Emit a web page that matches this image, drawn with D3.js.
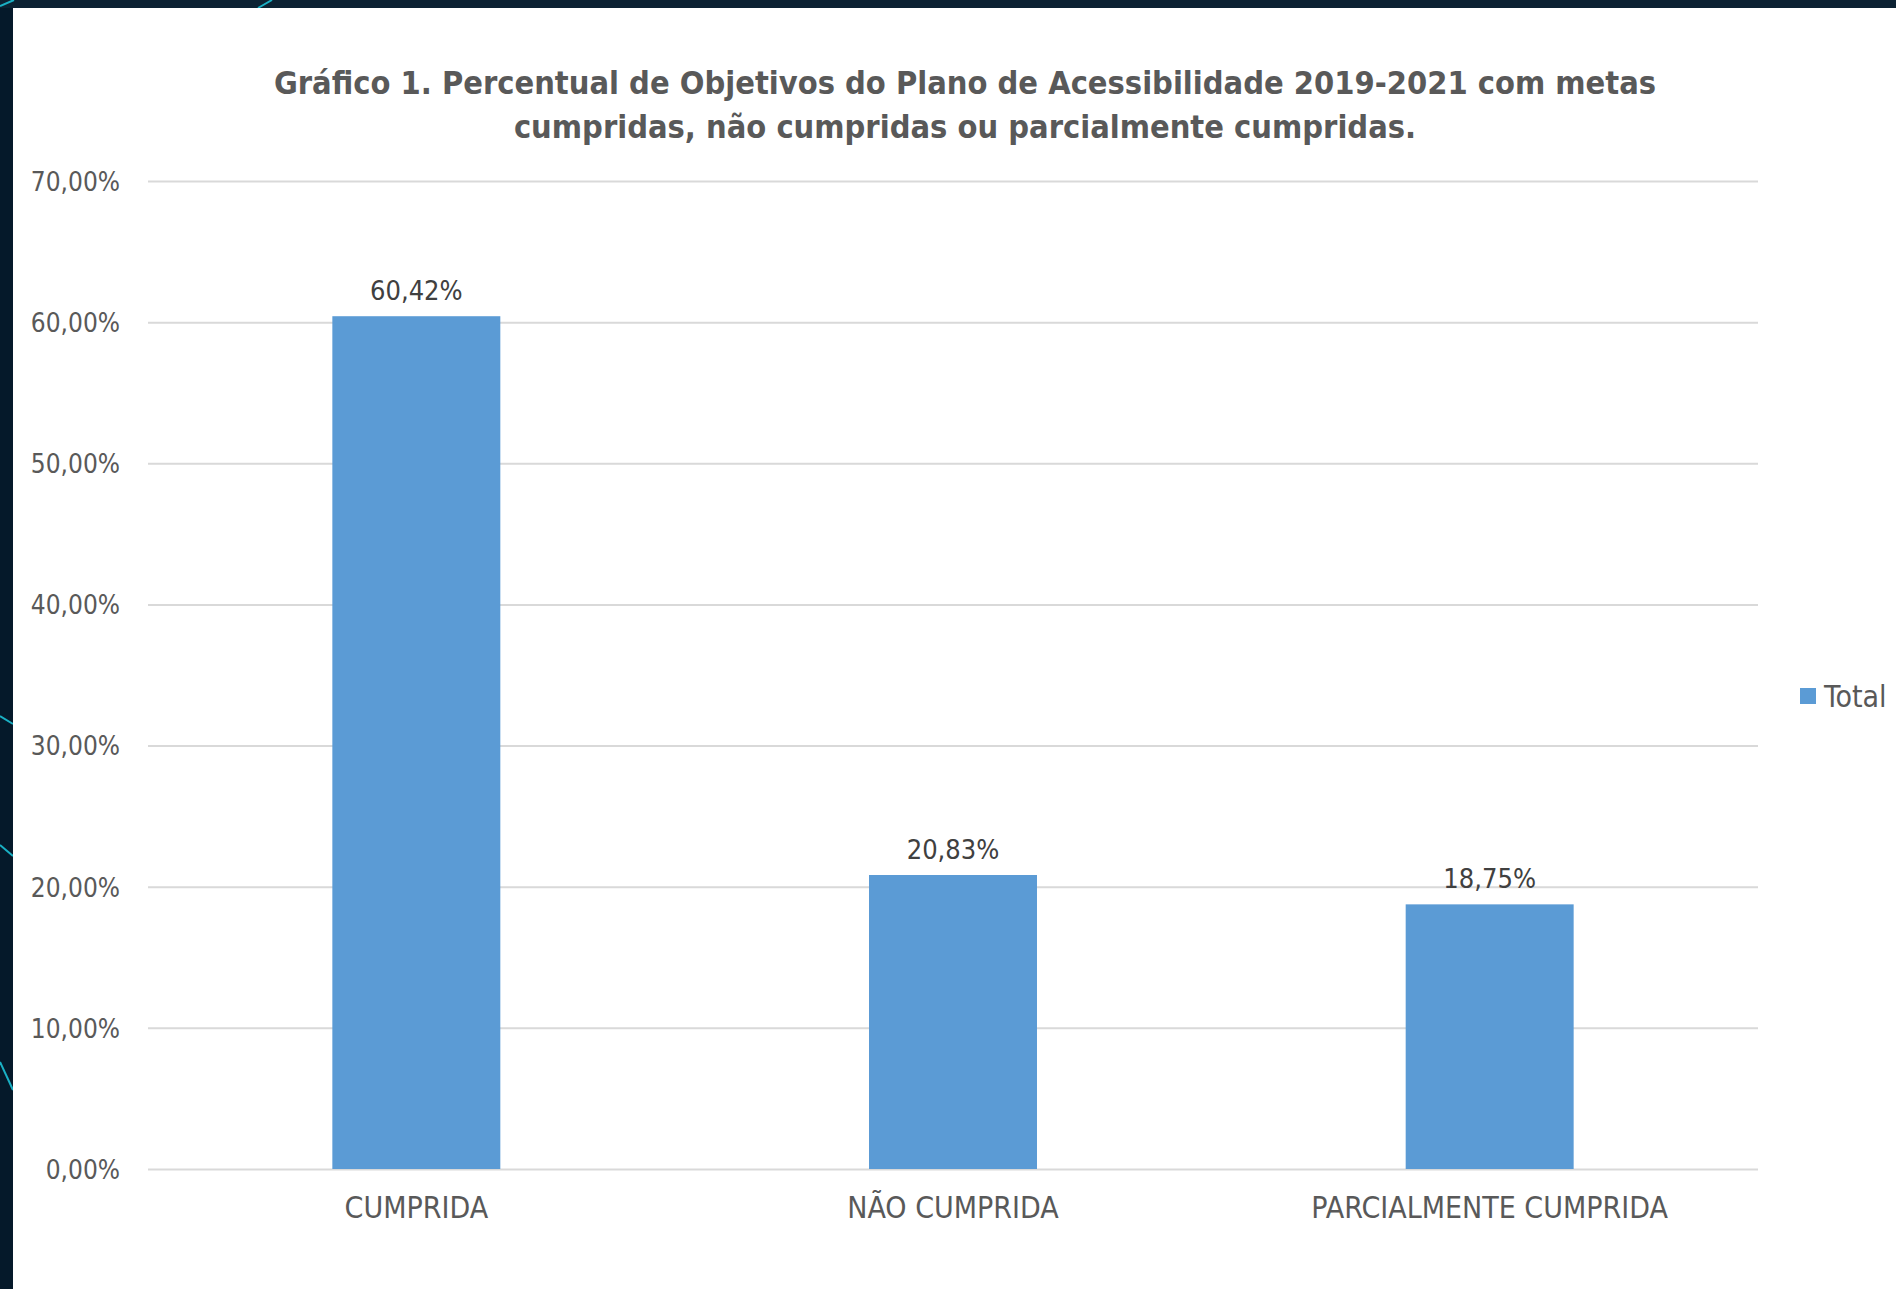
<!DOCTYPE html>
<html>
<head>
<meta charset="utf-8">
<script src="https://cdn.jsdelivr.net/npm/d3@7"></script>
<style>
  html, body { margin: 0; padding: 0; background: #0c2233; }
  svg { display: block; }
  text { font-family: "DejaVu Sans Condensed", "DejaVu Sans", sans-serif; font-stretch: condensed; }
</style>
</head>
<body>
<script>
// dados do gráfico
var categories = ["CUMPRIDA", "NÃO CUMPRIDA", "PARCIALMENTE CUMPRIDA"];
var totals = [60.42, 20.83, 18.75];
var yTicks = [0, 10, 20, 30, 40, 50, 60, 70];
var seriesName = "Total";
var titleLines = [
  "Gráfico 1. Percentual de Objetivos do Plano de Acessibilidade 2019-2021 com metas",
  "cumpridas, não cumpridas ou parcialmente cumpridas."
];

var W = 1896, H = 1289;
// "top" é reservado no window, por isso mTop etc.
var mLeft = 148, mRight = 1758, mTop = 181, mBottom = 1169;
var textColor = "#595959", barColor = "#5b9bd5";

var ptBR = d3.formatLocale({decimal: ",", thousands: ".", grouping: [3], currency: ["R$", ""]});
var fmt = function (d) { return ptBR.format(".2f")(d) + "%"; };

var svg = d3.select("body").append("svg")
  .attr("width", W)
  .attr("height", H);

// fundo escuro do slide + linhas decorativas
svg.append("rect").attr("width", W).attr("height", H).attr("fill", "#0c2233");
svg.append("rect").attr("x", 0).attr("y", 8).attr("width", 13).attr("height", H).attr("fill", "#05192a");
var deco = [[0, 6, 14, 0], [258, 8, 272, 0], [0, 716, 13, 724], [0, 845, 13, 856], [0, 1062, 13, 1090]];
svg.selectAll("line.deco").data(deco).enter().append("line")
  .attr("class", "deco")
  .attr("x1", function (d) { return d[0]; }).attr("y1", function (d) { return d[1]; })
  .attr("x2", function (d) { return d[2]; }).attr("y2", function (d) { return d[3]; })
  .attr("stroke", "#1ab0c4").attr("stroke-width", 2);

// painel branco
svg.append("rect").attr("x", 13).attr("y", 8).attr("width", W - 13).attr("height", H - 8).attr("fill", "#ffffff");

var x = d3.scaleBand().domain(categories).range([mLeft, mRight]).paddingInner(0.687).paddingOuter(0.3435);
var y = d3.scaleLinear().domain([0, 70]).range([mBottom, mTop]);

// eixo y com grade
var gy = svg.append("g").attr("transform", "translate(" + mLeft + ",0)")
  .call(d3.axisLeft(y).tickValues(yTicks).tickFormat(fmt).tickSize(-(mRight - mLeft)).tickPadding(28));
gy.select(".domain").remove();
gy.selectAll(".tick line").attr("stroke", "#d9d9d9").attr("stroke-width", 2);
gy.selectAll(".tick text")
  .attr("fill", textColor)
  .attr("font-size", 26)
  .attr("font-family", null)
  .attr("dy", "0.36em");

// barras
svg.selectAll("rect.bar").data(totals).enter().append("rect")
  .attr("class", "bar")
  .attr("x", function (d, i) { return x(categories[i]); })
  .attr("y", function (d) { return y(d); })
  .attr("width", x.bandwidth())
  .attr("height", function (d) { return mBottom - y(d); })
  .attr("fill", barColor);

// rótulos de valor
svg.selectAll("text.val").data(totals).enter().append("text")
  .attr("class", "val")
  .attr("text-anchor", "middle")
  .attr("x", function (d, i) { return x(categories[i]) + x.bandwidth() / 2; })
  .attr("y", function (d) { return y(d) - 16; })
  .attr("font-size", 27)
  .attr("fill", "#404040")
  .text(fmt);

// eixo x
var gx = svg.append("g").attr("transform", "translate(0," + mBottom + ")")
  .call(d3.axisBottom(x).tickSize(0));
gx.select(".domain").remove();
gx.selectAll(".tick text")
  .attr("fill", textColor)
  .attr("font-size", 30)
  .attr("font-family", null)
  .attr("y", 49)
  .attr("dy", 0);

// título
svg.selectAll("text.title").data(titleLines).enter().append("text")
  .attr("class", "title")
  .attr("text-anchor", "middle")
  .attr("x", 965)
  .attr("y", function (d, i) { return 94 + i * 44; })
  .attr("font-size", 32.3)
  .attr("font-weight", "bold")
  .attr("fill", textColor)
  .text(function (d) { return d; });

// legenda
var lg = svg.append("g").attr("transform", "translate(1800,688)");
lg.append("rect").attr("width", 16).attr("height", 16).attr("fill", barColor);
lg.append("text").attr("x", 24).attr("y", 19).attr("font-size", 30).attr("fill", textColor).text(seriesName);
</script>
</body>
</html>
